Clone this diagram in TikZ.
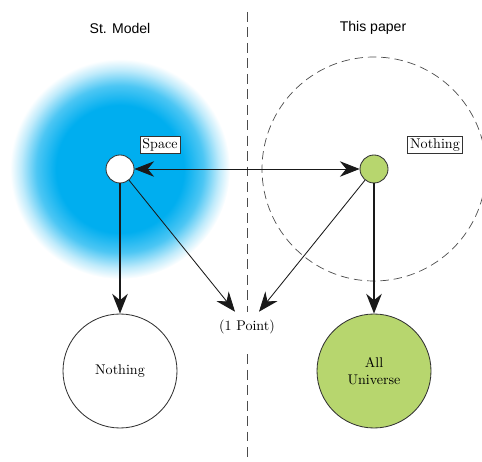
\documentclass[tikz,border=0pt]{standalone}
\usepackage{fontspec}
\newfontfamily\headfont{Liberation Sans}
\usetikzlibrary{arrows.meta}
\definecolor{stdblue}{RGB}{0,174,239}
\definecolor{leaf}{RGB}{183,214,110}
\pgfdeclareradialshading{glow}{\pgfpoint{0bp}{0bp}}{color(0bp)=(stdblue); color(14.5bp)=(stdblue); color(19bp)=(stdblue!70); color(22.5bp)=(stdblue!25); color(25bp)=(white); color(50bp)=(white)}
\tikzstyle{seed}=[circle, draw=black!80, line width=0.6pt, minimum size=0.7cm, inner sep=0pt]
\tikzstyle{world}=[circle, draw=black!80, line width=0.6pt, minimum size=2.85cm, align=center]
\tikzstyle{tag}=[draw=black!80, fill=white, line width=0.5pt, inner sep=1.8pt]
\tikzstyle{fatarrow}=[-{Stealth[length=14pt, width=11pt, inset=4.5pt]}, line width=1.4pt, black!90]
\tikzstyle{thinarrow}=[-{Stealth[length=14pt, width=11pt, inset=4.5pt]}, line width=0.6pt, black!90]
\tikzstyle{botharrow}=[{Stealth[length=14pt, width=11pt, inset=4.5pt]}-{Stealth[length=14pt, width=11pt, inset=4.5pt]}, line width=0.6pt, black!90]
\tikzstyle{divider}=[black!70, line width=0.7pt, dash pattern=on 7pt off 4pt]

\begin{document}
\begin{tikzpicture}
\useasboundingbox (0,0) rectangle (12.05,11.525);
\shade[shading=glow] (3,7.3) circle (2.75);
\draw[black!70, line width=0.5pt, dash pattern=on 6pt off 3.5pt] (9.35,7.3) circle (2.8);

\draw (3,10.825) node[font=\headfont] (stm) {St. Model};
\draw (9.325,10.825) node[font=\headfont] (paper) {This paper};
\coordinate (top) at (6.175,11.225);
\coordinate (bot) at (6.175,0);
\draw (6.175,3.35) node[inner sep=0.2cm] (pt) {(1 Point)};
\draw[divider] (top) -- (pt.north);
\draw[divider, shorten <=0.3cm] (pt.south) -- (bot);

\draw (3,7.3) node[seed, fill=white] (S) {};
\draw (9.35,7.3) node[seed, fill=leaf] (G) {};
\draw (4,7.9) node[tag] (space) {Space};
\draw (10.875,7.9) node[tag] (noth) {Nothing};
\draw (3,2.25) node[world, fill=white] (N) {Nothing};
\draw (9.35,2.25) node[world, fill=leaf] (U) {All\\Universe};

\draw[botharrow] (S) -- (G);
\draw[fatarrow] (S) -- (N);
\draw[fatarrow] (G) -- (U);
\draw[thinarrow] (S) -- ([xshift=-0.3cm]pt.north);
\draw[thinarrow] (G) -- ([xshift=0.3cm]pt.north);
\end{tikzpicture}
\end{document}
